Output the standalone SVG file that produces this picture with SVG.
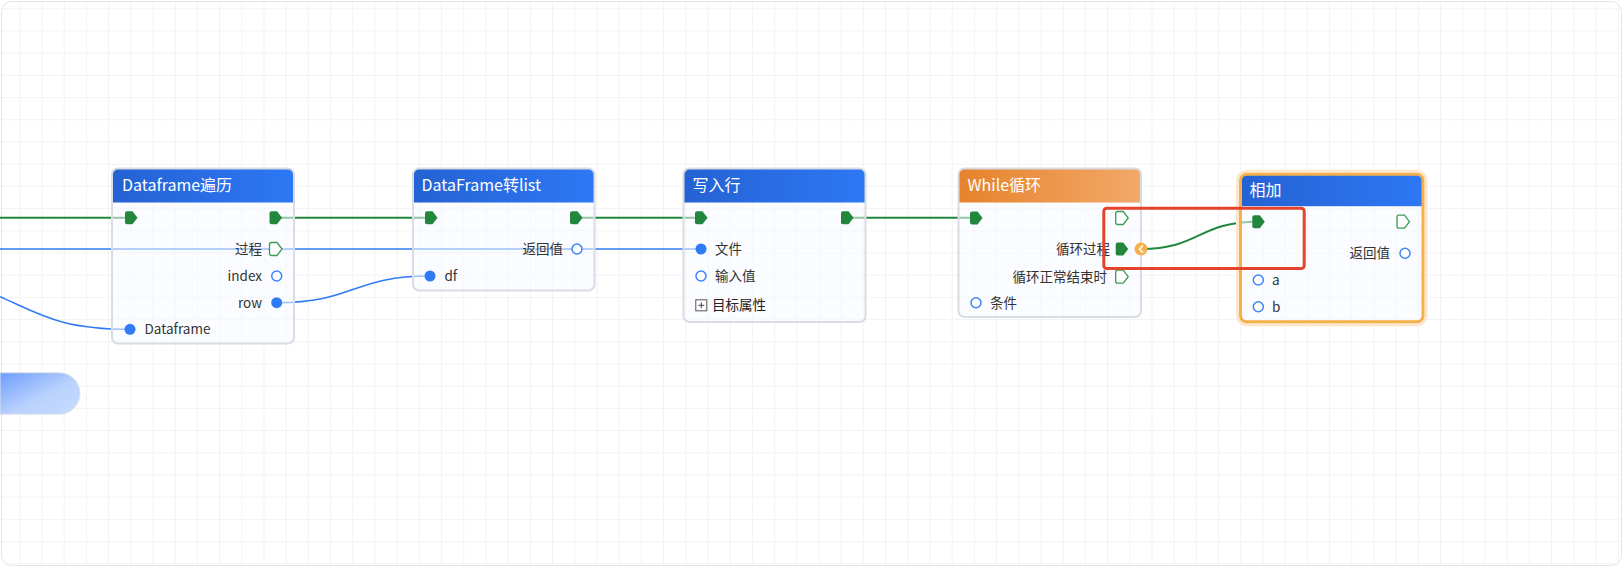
<svg xmlns="http://www.w3.org/2000/svg" width="1623" height="567" viewBox="0 0 1623 567">
<defs>
<pattern id="grid" x="19.3" y="8.3" width="22.2" height="22.2" patternUnits="userSpaceOnUse">
<path d="M0 0.5H22.2M0.5 0V22.2" stroke="#f2f2f4" stroke-width="1" fill="none"/>
</pattern>
<linearGradient id="hBlue" x1="0" y1="0" x2="1" y2="0">
<stop offset="0" stop-color="#2462d2"/><stop offset="0.6" stop-color="#2a6fe8"/><stop offset="1" stop-color="#2d78f4"/>
</linearGradient>
<linearGradient id="hOrange" x1="0" y1="0" x2="1" y2="0">
<stop offset="0" stop-color="#e6822b"/><stop offset="1" stop-color="#f2a96a"/>
</linearGradient>
<linearGradient id="pill" x1="0" y1="0" x2="1" y2="1">
<stop offset="0" stop-color="#6c9dfd"/><stop offset="0.55" stop-color="#b9d1fd"/><stop offset="1" stop-color="#c9dcfe"/>
</linearGradient>
<path id="exec" d="M-6 -4.5Q-6 -6.5 -4 -6.5H1.5L6.5 0L1.5 6.5H-4Q-6 6.5 -6 4.5Z"/>
<clipPath id="c1"><rect x="112" y="168.5" width="182" height="175" rx="6"/></clipPath>
<clipPath id="c2"><rect x="413" y="168.5" width="181.5" height="122" rx="6"/></clipPath>
<clipPath id="c3"><rect x="683.5" y="168.5" width="182" height="153.5" rx="6"/></clipPath>
<clipPath id="c4"><rect x="958.5" y="168.5" width="182.5" height="148.5" rx="6"/></clipPath>
<clipPath id="c5"><rect x="1240.5" y="174.2" width="182.5" height="147.6" rx="6"/></clipPath>
</defs>
<style>
.body{fill:#f8faff;fill-opacity:0.55}
.frame{fill:none;stroke:#d9dce4;stroke-width:2}
.title{font-family:"Noto Sans CJK SC","Noto Sans",sans-serif;font-size:16px;fill:#ffffff}
.lbl{font-family:"Noto Sans CJK SC","Noto Sans",sans-serif;font-size:13.5px;fill:#333333}
.end{text-anchor:end}
.ex{fill:#22873c}
.exo{fill:#ffffff;stroke:#3a9a55;stroke-width:1.3}
.pf{fill:#2f7bf5}
.po{fill:#ffffff;stroke:#3d85f7;stroke-width:1.5}
.g{stroke:#22873c;stroke-width:2;fill:none}
.b{stroke:#2f7bf5;stroke-width:1.6;fill:none}
</style>
<rect x="0" y="0" width="1623" height="567" fill="#ffffff"/>
<rect x="1.5" y="1.5" width="1620" height="564" rx="10" fill="url(#grid)" stroke="#e6e6e8" stroke-width="1"/>

<g id="pill-node">
<path d="M0 372.7H59.2A20.8 20.8 0 0 1 59.2 414.3H0Z" fill="url(#pill)" stroke="#dfe3ea" stroke-width="1"/>
</g>

<g id="connectors">
<path class="g" d="M0 217.7H131"/>
<path class="g" d="M275 217.7H431"/>
<path class="g" d="M576 217.7H701"/>
<path class="g" d="M847 217.7H976"/>
<path class="b" d="M0 249H701"/>
<path class="b" d="M0 296.7C40 314 60 329.3 130 329.3"/>
<path class="b" d="M276.7 302.7C355 302.7 352 276 430 276"/>
<path class="g" d="M1141 249C1200 249 1198 221.7 1258 221.7"/>
</g>

<g id="node-dataframe-traverse">
<rect class="body" x="112" y="168.5" width="182" height="175" rx="6"/>
<rect x="112" y="168.5" width="182" height="34" fill="url(#hBlue)" clip-path="url(#c1)"/>
<rect class="frame" x="112" y="168.5" width="182" height="175" rx="6"/>
<text class="title" x="122" y="191">Dataframe遍历</text>
<use href="#exec" class="ex" x="131" y="217.7"/>
<use href="#exec" class="ex" x="275.5" y="217.7"/>
<text class="lbl end" x="262" y="254">过程</text>
<use href="#exec" class="exo" x="275.5" y="249"/>
<text class="lbl end" x="262" y="281">index</text>
<circle class="po" cx="276.7" cy="276" r="5"/>
<text class="lbl end" x="262" y="307.5">row</text>
<circle class="pf" cx="276.7" cy="302.7" r="5.5"/>
<circle class="pf" cx="130" cy="329.3" r="5.5"/>
<text class="lbl" x="144.5" y="334">Dataframe</text>
</g>

<g id="node-df-to-list">
<rect class="body" x="413" y="168.5" width="181.5" height="122" rx="6"/>
<rect x="413" y="168.5" width="181.5" height="34" fill="url(#hBlue)" clip-path="url(#c2)"/>
<rect class="frame" x="413" y="168.5" width="181.5" height="122" rx="6"/>
<text class="title" x="421.5" y="191">DataFrame转list</text>
<use href="#exec" class="ex" x="431" y="217.7"/>
<use href="#exec" class="ex" x="576" y="217.7"/>
<text class="lbl end" x="563" y="254">返回值</text>
<circle class="po" cx="577" cy="249" r="5"/>
<circle class="pf" cx="430" cy="276" r="5.5"/>
<text class="lbl" x="444.5" y="281">df</text>
</g>

<g id="node-write-row">
<rect class="body" x="683.5" y="168.5" width="182" height="153.5" rx="6"/>
<rect x="683.5" y="168.5" width="182" height="34" fill="url(#hBlue)" clip-path="url(#c3)"/>
<rect class="frame" x="683.5" y="168.5" width="182" height="153.5" rx="6"/>
<text class="title" x="692.5" y="191">写入行</text>
<use href="#exec" class="ex" x="701" y="217.7"/>
<use href="#exec" class="ex" x="847" y="217.7"/>
<circle class="pf" cx="701" cy="249" r="5.5"/>
<text class="lbl" x="715" y="254">文件</text>
<circle class="po" cx="701" cy="276" r="5"/>
<text class="lbl" x="715" y="281">输入值</text>
<rect x="695.8" y="299.8" width="11" height="11" fill="#ffffff" stroke="#555" stroke-width="1"/>
<path d="M698.3 305.3H704.3M701.3 302.3V308.3" stroke="#444" stroke-width="1"/>
<text class="lbl" x="712" y="310" style="fill:#222">目标属性</text>
</g>

<g id="node-while">
<rect class="body" x="958.5" y="168.5" width="182.5" height="148.5" rx="6"/>
<rect x="958.5" y="168.5" width="182.5" height="34" fill="url(#hOrange)" clip-path="url(#c4)"/>
<rect class="frame" x="958.5" y="168.5" width="182.5" height="148.5" rx="6"/>
<text class="title" x="967.5" y="191">While循环</text>
<use href="#exec" class="ex" x="976" y="218"/>
<use href="#exec" class="exo" x="1121.7" y="218"/>
<text class="lbl end" x="1110" y="254">循环过程</text>
<use href="#exec" class="ex" x="1121.7" y="249"/>
<text class="lbl end" x="1107" y="281.5">循环正常结束时</text>
<use href="#exec" class="exo" x="1121.7" y="276.7"/>
<circle class="po" cx="976" cy="302.7" r="5"/>
<text class="lbl" x="990" y="307.5">条件</text>
</g>

<g id="node-add">
<rect x="1237.5" y="171.2" width="188.5" height="153.6" rx="9" fill="none" stroke="#fde7cc" stroke-width="3"/>
<rect class="body" x="1240.5" y="174.2" width="182.5" height="147.6" rx="6"/>
<rect x="1240.5" y="174.2" width="182.5" height="32" fill="url(#hBlue)" clip-path="url(#c5)"/>
<rect x="1240.5" y="174.2" width="182.5" height="147.6" rx="6" fill="none" stroke="#f5b04c" stroke-width="3"/>
<text class="title" x="1249.5" y="196">相加</text>
<use href="#exec" class="ex" x="1258.3" y="221.7"/>
<use href="#exec" class="exo" x="1403" y="221.7"/>
<text class="lbl end" x="1390" y="258">返回值</text>
<circle class="po" cx="1405" cy="253.3" r="5"/>
<circle class="po" cx="1258.3" cy="280" r="5"/>
<text class="lbl" x="1272" y="285">a</text>
<circle class="po" cx="1258.3" cy="306.7" r="5"/>
<text class="lbl" x="1272" y="311.5">b</text>
</g>

<g id="reroute-handle">
<circle cx="1141" cy="249" r="6.5" fill="#f5b04c"/>
<path d="M1142.6 245.8L1139.4 249L1142.6 252.2" fill="none" stroke="#ffffff" stroke-width="1.5" stroke-linecap="round" stroke-linejoin="round"/>
</g>

<g id="highlight">
<rect x="1103.8" y="208.2" width="200.4" height="60.3" rx="3" fill="none" stroke="#e5432c" stroke-width="3"/>
</g>
</svg>
